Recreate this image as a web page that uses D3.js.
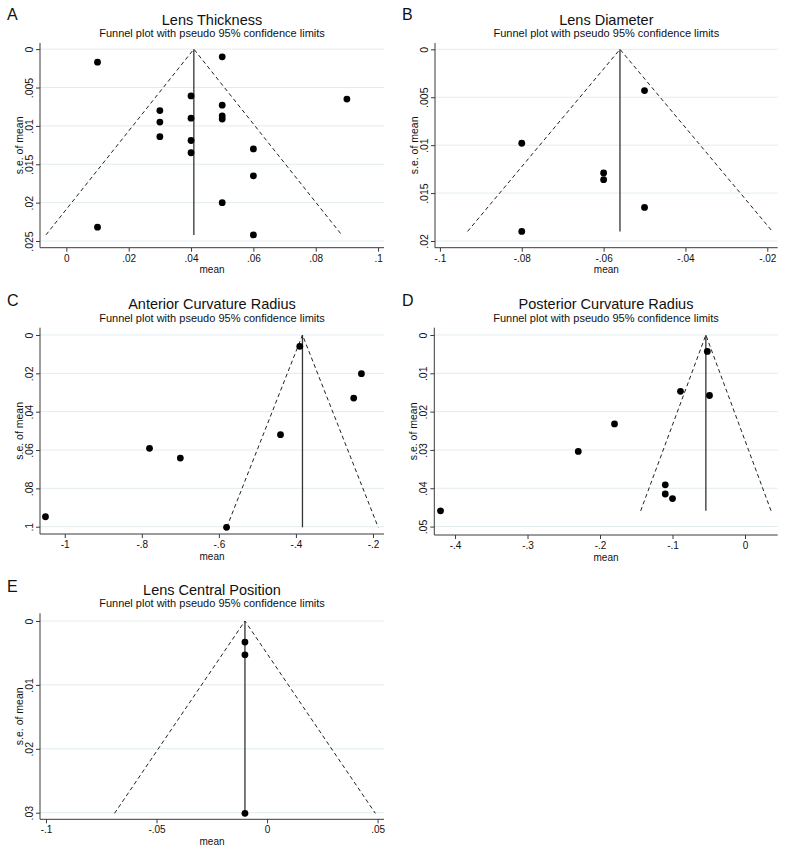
<!DOCTYPE html>
<html>
<head>
<meta charset="utf-8">
<script src="https://cdn.jsdelivr.net/npm/d3@7"></script>
<style>
  html, body { margin: 0; padding: 0; background: #fff; }
  svg { display: block; font-family: "Liberation Sans", Arimo, "DejaVu Sans", sans-serif; }
</style>
</head>
<body>
<svg id="chart" width="789" height="860"></svg>
<script>
// ---------------- DATA ----------------
const panelLetters = ["A", "B", "C", "D", "E"];
const panelTitles = ["Lens Thickness", "Lens Diameter", "Anterior Curvature Radius", "Posterior Curvature Radius", "Lens Central Position"];
const subtitle = "Funnel plot with pseudo 95% confidence limits";
const xAxisTitle = "mean";
const yAxisTitle = "s.e. of mean";

// study means and standard errors
const meansA = [0.01, 0.05, 0.09, 0.04, 0.05, 0.03, 0.05, 0.05, 0.04, 0.03, 0.03, 0.04, 0.06, 0.04, 0.06, 0.05, 0.01, 0.06];
const sesA   = [0.0017, 0.0010, 0.0065, 0.0061, 0.0073, 0.0080, 0.0087, 0.0091, 0.0090, 0.0095, 0.0114, 0.0119, 0.0130, 0.0135, 0.0165, 0.0200, 0.0232, 0.0242];
const meansB = [-0.05, -0.08, -0.06, -0.06, -0.05, -0.08];
const sesB   = [0.0043, 0.0098, 0.0129, 0.0136, 0.0165, 0.0190];
const meansC = [-0.39, -0.23, -0.25, -0.44, -0.78, -0.70, -1.05, -0.58];
const sesC   = [0.0059, 0.0202, 0.0329, 0.0520, 0.0591, 0.0642, 0.0948, 0.1003];
const meansD = [-0.052, -0.089, -0.049, -0.18, -0.23, -0.11, -0.11, -0.10, -0.42];
const sesD   = [0.0043, 0.0147, 0.0158, 0.0232, 0.0304, 0.0391, 0.0415, 0.0427, 0.0459];
const meansE = [-0.01, -0.01, -0.01];
const sesE   = [0.0033, 0.0053, 0.0301];

// pooled (fixed-effect) estimates, centre of each funnel
const pooled = [0.0409, -0.056, -0.383, -0.054, -0.010];

// axis ranges (values at plot-region edges)
const xRanges = [[-0.00845, 0.1019], [-0.1012, -0.01746], [-1.0642, -0.1714], [-0.4286, 0.0451], [-0.1027, 0.0529]];
const yRanges = [[-0.0008, 0.02587], [-0.00066, 0.0207], [-0.0038, 0.1038], [-0.0019, 0.0522], [-0.0012, 0.03103]];

// ticks
const xTicksA = [0, 0.02, 0.04, 0.06, 0.08, 0.1];
const xTickLabelsA = ["0", ".02", ".04", ".06", ".08", ".1"];
const yTicksA = [0, 0.005, 0.01, 0.015, 0.02, 0.025];
const yTickLabelsA = ["0", ".005", ".01", ".015", ".02", ".025"];
const xTicksB = [-0.1, -0.08, -0.06, -0.04, -0.02];
const xTickLabelsB = ["-.1", "-.08", "-.06", "-.04", "-.02"];
const yTicksB = [0, 0.005, 0.01, 0.015, 0.02];
const yTickLabelsB = ["0", ".005", ".01", ".015", ".02"];
const xTicksC = [-1, -0.8, -0.6, -0.4, -0.2];
const xTickLabelsC = ["-1", "-.8", "-.6", "-.4", "-.2"];
const yTicksC = [0, 0.02, 0.04, 0.06, 0.08, 0.1];
const yTickLabelsC = ["0", ".02", ".04", ".06", ".08", ".1"];
const xTicksD = [-0.4, -0.3, -0.2, -0.1, 0];
const xTickLabelsD = ["-.4", "-.3", "-.2", "-.1", "0"];
const yTicksD = [0, 0.01, 0.02, 0.03, 0.04, 0.05];
const yTickLabelsD = ["0", ".01", ".02", ".03", ".04", ".05"];
const xTicksE = [-0.1, -0.05, 0, 0.05];
const xTickLabelsE = ["-.1", "-.05", "0", ".05"];
const yTicksE = [0, 0.01, 0.02, 0.03];
const yTickLabelsE = ["0", ".01", ".02", ".03"];

const z95 = 1.96;

// ---------------- LAYOUT ----------------
const panels = [
  { means: meansA, ses: sesA, xt: xTicksA, xl: xTickLabelsA, yt: yTicksA, yl: yTickLabelsA, rect: [40, 43, 384, 247.7], ox: 0, oy: 0 },
  { means: meansB, ses: sesB, xt: xTicksB, xl: xTickLabelsB, yt: yTicksB, yl: yTickLabelsB, rect: [435, 43, 777.7, 247.7], ox: 395, oy: 0 },
  { means: meansC, ses: sesC, xt: xTicksC, xl: xTickLabelsC, yt: yTicksC, yl: yTickLabelsC, rect: [40, 327.7, 384, 534], ox: 0, oy: 286 },
  { means: meansD, ses: sesD, xt: xTicksD, xl: xTickLabelsD, yt: yTicksD, yl: yTickLabelsD, rect: [434.3, 327.7, 777.7, 535], ox: 395, oy: 286 },
  { means: meansE, ses: sesE, xt: xTicksE, xl: xTickLabelsE, yt: yTicksE, yl: yTickLabelsE, rect: [40, 613.3, 384, 819.3], ox: 0, oy: 572 }
];

const svg = d3.select("#chart");
const textCol = "#111";
const axisCol = "#3a3a3a";
const gridCol = "#e2ecef";

panels.forEach((p, i) => {
  const [L, T, R, B] = p.rect;
  const x = d3.scaleLinear().domain(xRanges[i]).range([L, R]);
  const y = d3.scaleLinear().domain(yRanges[i]).range([T, B]);
  const g = svg.append("g");

  // panel letter
  g.append("text").attr("x", p.ox + 7).attr("y", p.oy + 19.5)
    .attr("font-size", 16).attr("fill", textCol).text(panelLetters[i]);
  // title & subtitle
  const cx = (L + R) / 2;
  g.append("text").attr("x", cx).attr("y", T - 18.5).attr("text-anchor", "middle")
    .attr("font-size", 14.5).attr("fill", textCol).text(panelTitles[i]);
  g.append("text").attr("x", cx).attr("y", T - 6).attr("text-anchor", "middle")
    .attr("font-size", 11).attr("fill", textCol).text(subtitle);

  // grid lines
  g.append("g").selectAll("line").data(p.yt).join("line")
    .attr("x1", L).attr("x2", R)
    .attr("y1", d => y(d)).attr("y2", d => y(d))
    .attr("stroke", gridCol).attr("stroke-width", 1);

  // y axis
  const yAxis = d3.axisLeft(y).tickValues(p.yt).tickSize(4).tickSizeOuter(0)
    .tickFormat((d, k) => p.yl[k]);
  const ya = g.append("g").attr("transform", `translate(${L},0)`).call(yAxis);
  ya.select(".domain").attr("stroke", axisCol).attr("d", `M0,${T}V${B}`);
  ya.selectAll(".tick line").attr("stroke", axisCol);
  ya.selectAll(".tick text")
    .attr("x", null).attr("dy", null)
    .attr("transform", "translate(-7,0) rotate(-90)")
    .attr("text-anchor", "middle")
    .attr("font-size", 10.5).attr("fill", textCol).attr("font-family", null);

  // x axis
  const xAxis = d3.axisBottom(x).tickValues(p.xt).tickSize(4).tickSizeOuter(0)
    .tickFormat((d, k) => p.xl[k]);
  const xa = g.append("g").attr("transform", `translate(0,${B})`).call(xAxis);
  xa.select(".domain").attr("stroke", axisCol).attr("d", `M${L},0H${R}`);
  xa.selectAll(".tick line").attr("stroke", axisCol);
  xa.selectAll(".tick text").attr("y", 7).attr("dy", "0.71em")
    .attr("font-size", 10).attr("fill", textCol).attr("font-family", null);

  // axis titles
  g.append("text").attr("x", cx).attr("y", B + 25.5).attr("text-anchor", "middle")
    .attr("font-size", 10).attr("fill", textCol).text(xAxisTitle);
  g.append("text").attr("transform", `translate(${L - 17},${(T + B) / 2}) rotate(-90)`)
    .attr("text-anchor", "middle").attr("font-size", 10.5).attr("fill", textCol).text(yAxisTitle);

  // funnel
  const theta = pooled[i];
  const maxSe = d3.max(p.ses);
  const funnel = d3.line().x(d => x(d[0])).y(d => y(d[1]));
  g.append("path")
    .attr("d", funnel([[theta - z95 * maxSe, maxSe], [theta, 0], [theta + z95 * maxSe, maxSe]]))
    .attr("fill", "none").attr("stroke", "#222").attr("stroke-width", 1)
    .attr("stroke-dasharray", "4,3");
  g.append("line")
    .attr("x1", x(theta)).attr("x2", x(theta))
    .attr("y1", y(0)).attr("y2", y(maxSe))
    .attr("stroke", "#333").attr("stroke-width", 1.3);

  // points
  g.append("g").selectAll("circle").data(p.means.map((m, k) => [m, p.ses[k]])).join("circle")
    .attr("cx", d => x(d[0])).attr("cy", d => y(d[1])).attr("r", 3.4)
    .attr("fill", "#000");
});
</script>
</body>
</html>
